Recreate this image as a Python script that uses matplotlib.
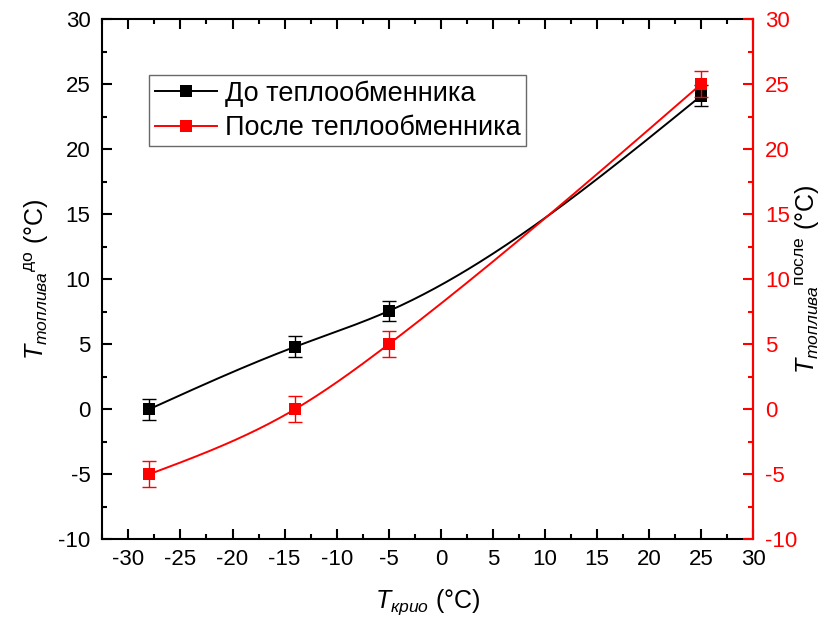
import numpy as np
import matplotlib.pyplot as plt
from matplotlib.ticker import MultipleLocator

plt.rcParams["font.family"] = ["Liberation Sans", "DejaVu Sans"]
plt.rcParams["mathtext.fontset"] = "custom"
plt.rcParams["mathtext.rm"] = "Liberation Sans"
plt.rcParams["mathtext.it"] = "Liberation Sans:italic"
plt.rcParams["mathtext.bf"] = "Liberation Sans:bold"
plt.rcParams["axes.unicode_minus"] = False

# data
t_krio = [-28, -14, -5, 25]
t_before = [0.0, 4.8, 7.55, 24.1]
t_before_err = [0.8, 0.8, 0.8, 0.8]
t_after = [-5.0, 0.0, 5.0, 25.0]
t_after_err = [1.0, 1.0, 1.0, 1.0]

label_before = "До теплообменника"
label_after = "После теплообменника"


def natural_spline(x, y, n=200):
    # natural cubic spline for the smooth connecting line (Origin "spline" style)
    x = np.asarray(x, float)
    y = np.asarray(y, float)
    h = np.diff(x)
    k = len(x)
    A = np.zeros((k, k))
    b = np.zeros(k)
    A[0, 0] = A[-1, -1] = 1
    for i in range(1, k - 1):
        A[i, i - 1] = h[i - 1]
        A[i, i] = 2 * (h[i - 1] + h[i])
        A[i, i + 1] = h[i]
        b[i] = 6 * ((y[i + 1] - y[i]) / h[i] - (y[i] - y[i - 1]) / h[i - 1])
    M = np.linalg.solve(A, b)
    xs = np.linspace(x[0], x[-1], n)
    idx = np.clip(np.searchsorted(x, xs) - 1, 0, k - 2)
    x0, x1 = x[idx], x[idx + 1]
    hh = x1 - x0
    ys = (M[idx] * (x1 - xs) ** 3 / (6 * hh) + M[idx + 1] * (xs - x0) ** 3 / (6 * hh)
          + (y[idx] / hh - M[idx] * hh / 6) * (x1 - xs)
          + (y[idx + 1] / hh - M[idx + 1] * hh / 6) * (xs - x0))
    return xs, ys


fig = plt.figure(figsize=(8.26, 6.24), dpi=100)
ax = fig.add_axes([102.3 / 826, 1 - 539.3 / 624, (753.3 - 102.3) / 826, (539.3 - 19) / 624])
ax2 = ax.twinx()

# before heat exchanger (black, left axis)
xs, ys = natural_spline(t_krio, t_before)
ax.plot(xs, ys, color="black", lw=1.4, zorder=2)
ax.errorbar(t_krio, t_before, yerr=t_before_err, fmt="none", ecolor="black",
            elinewidth=1.0, capsize=5, capthick=1.0, zorder=3)
ax.plot(t_krio, t_before, "s", color="black", ms=8, mew=0, zorder=4)

# after heat exchanger (red, right axis)
xs, ys = natural_spline(t_krio, t_after)
ax2.plot(xs, ys, color="red", lw=1.4, zorder=2)
ax2.errorbar(t_krio, t_after, yerr=t_after_err, fmt="none", ecolor="red",
             elinewidth=1.0, capsize=5, capthick=1.0, zorder=3)
ax2.plot(t_krio, t_after, "s", color="red", ms=8, mew=0, zorder=4)

ax.set_xlim(-32.5, 30)
ax.set_ylim(-10, 30)
ax2.set_ylim(-10, 30)

for a in (ax, ax2):
    a.xaxis.set_major_locator(MultipleLocator(5))
    a.xaxis.set_minor_locator(MultipleLocator(2.5))
    a.yaxis.set_major_locator(MultipleLocator(5))
    a.yaxis.set_minor_locator(MultipleLocator(2.5))

ax.tick_params(which="both", direction="in", top=True, right=False, width=1.5,
               labelsize=16, colors="black")
ax.tick_params(which="major", length=7)
ax.tick_params(which="minor", length=3.5)
ax.tick_params(axis="y", pad=8.5)
ax.tick_params(axis="x", pad=7)
ax2.tick_params(which="both", direction="in", right=True, left=False, top=False,
                bottom=False, width=1.5, labelsize=16, colors="red", pad=8.5)
ax2.tick_params(which="major", length=7)
ax2.tick_params(which="minor", length=3.5)

for s in ax.spines.values():
    s.set_linewidth(1.5)
for name in ("left", "top", "bottom"):
    ax2.spines[name].set_visible(False)
ax2.spines["right"].set_color("red")
ax2.spines["right"].set_linewidth(1.5)

ax.set_xlabel(r"$T_{\mathit{крио}}$ (°C)", fontsize=18)
ax.set_ylabel(r"$T_{\mathit{топлива}}{}^{\mathrm{до}}$ (°C)", fontsize=18)
ax2.set_ylabel(r"$T_{\mathit{топлива}}{}^{\mathrm{после}}$ (°C)", fontsize=18,
               color="black")
ax.xaxis.set_label_coords(0.5, -0.093)
ax.yaxis.set_label_coords(-0.079, 0.5)
ax2.yaxis.set_label_coords(1.061, 0.5)

h1 = ax.plot([], [], "-s", color="black", lw=1.4, ms=8, mew=0)[0]
h2 = ax2.plot([], [], "-s", color="red", lw=1.4, ms=8, mew=0)[0]
leg = ax2.legend([h1, h2], [label_before, label_after], loc="upper left",
                 bbox_to_anchor=(149.4 / 826, 1 - 75 / 624), bbox_transform=fig.transFigure,
                 fontsize=19.5, frameon=True, fancybox=False, edgecolor="#444444",
                 borderpad=0.2, labelspacing=0.3, handlelength=2.3, handletextpad=0.3,
                 borderaxespad=0)
leg.get_frame().set_linewidth(1.0)

fig.savefig("out.png", dpi=100)
